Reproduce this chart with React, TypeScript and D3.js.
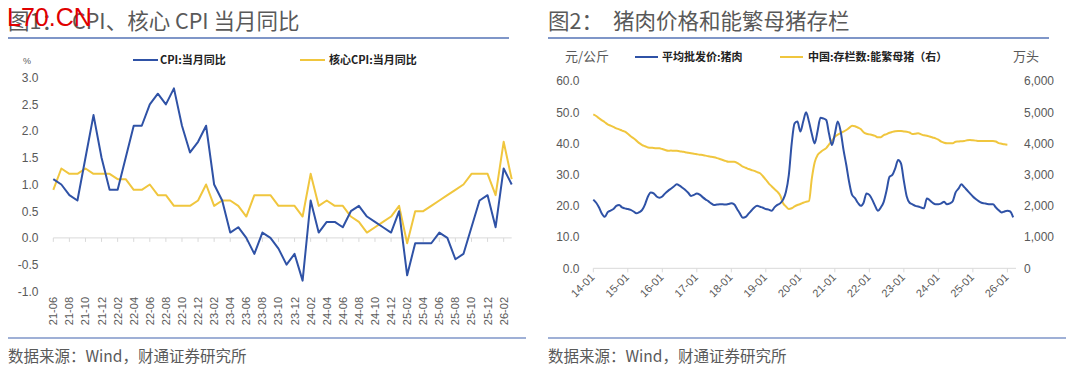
import React from "react";
import * as d3 from "d3";

// ---------- Chart 1 data: CPI & core CPI YoY, 21-06 .. 26-03 ----------
const cpiValues = [
  1.1, 1.0, 0.8, 0.7, 1.5, 2.3, 1.5,
  0.9, 0.9, 1.5, 2.1, 2.1, 2.5, 2.7, 2.5, 2.8, 2.1, 1.6, 1.8,
  2.1, 1.0, 0.7, 0.1, 0.2, 0.0, -0.3, 0.1, 0.0, -0.2, -0.5, -0.3,
  -0.8, 0.7, 0.1, 0.3, 0.3, 0.2, 0.5, 0.6, 0.4, 0.3, 0.2, 0.1,
  0.5, -0.7, -0.1, -0.1, -0.1, 0.1, 0.0, -0.4, -0.3, 0.2, 0.7, 0.8,
  0.2, 1.3, 1.0,
];
const coreValues = [
  0.9, 1.3, 1.2, 1.2, 1.3, 1.2, 1.2,
  1.2, 1.1, 1.1, 0.9, 0.9, 1.0, 0.8, 0.8, 0.6, 0.6, 0.6, 0.7,
  1.0, 0.6, 0.7, 0.7, 0.6, 0.4, 0.8, 0.8, 0.8, 0.6, 0.6, 0.6,
  0.4, 1.2, 0.6, 0.7, 0.6, 0.6, 0.4, 0.3, 0.1, 0.2, 0.3, 0.4,
  0.6, -0.1, 0.5, 0.5, 0.6, 0.7, 0.8, 0.9, 1.0, 1.2, 1.2, 1.2,
  0.8, 1.8, 1.1,
];
const cpiTickLabels = [
  "21-06", "21-08", "21-10", "21-12", "22-02", "22-04", "22-06", "22-08", "22-10", "22-12",
  "23-02", "23-04", "23-06", "23-08", "23-10", "23-12", "24-02", "24-04", "24-06", "24-08",
  "24-10", "24-12", "25-02", "25-04", "25-06", "25-08", "25-10", "25-12", "26-02",
];
const cpiYTicks = [3.0, 2.5, 2.0, 1.5, 1.0, 0.5, 0.0, -0.5, -1.0];

// ---------- Chart 2 data: monthly from 14-01 ----------
const porkPrice = [
  // 2014
  22, 21, 19.5, 17.5, 16.5, 18, 18.5, 19, 20, 20.3, 19.5, 19.2,
  // 2015
  19.0, 18.7, 18.2, 17.6, 18.0, 18.7, 20.5, 23, 24.3, 24, 23, 22.6,
  // 2016
  23, 24, 24.8, 25.5, 26.2, 26.9, 26.5, 25.8, 25.1, 24.2, 23.2, 23.5,
  // 2017
  24, 23.6, 22.8, 22.1, 21.5, 20.8, 20.3, 20.4, 20.5, 20.5, 20.4, 20.6,
  // 2018
  20.8, 20.5, 19, 17.5, 16.2, 16.5, 17.5, 18.5, 19.5, 20, 19.7, 19.4,
  // 2019
  19, 18.8, 18.4, 19.5, 20.3, 20.8, 22, 24.5, 29.9, 40, 46.4, 47,
  // 2020
  43.8, 47, 50, 47, 43, 40, 44, 48.2, 48, 47.5, 43, 39.5,
  // 2021
  43, 47, 44, 38, 33, 27.5, 23.5, 22.5, 21, 20, 21, 24,
  // 2022
  23.5, 22, 20, 18.4, 19.5, 21.3, 25, 29.3, 29.9, 32, 34.7, 33.6,
  // 2023
  28, 23, 21, 20.5, 20, 19.8, 19.5, 19.2, 22.4, 21.8, 21, 20.5,
  // 2024
  20.5, 20.8, 21.3, 20.5, 20.8, 21.5, 24.3, 25.5, 26.9, 26, 25, 24,
  // 2025
  23, 22.2, 21.5, 21, 20.8, 20.6, 20.5, 20.5, 19.5, 18.6, 17.9, 18.2,
  // 2026
  18.4, 18.2, 16.3,
];
const sowStock = [
  // 2014
  4933, 4880, 4805, 4740, 4680, 4612, 4570, 4530, 4484, 4450, 4410, 4375,
  // 2015
  4310, 4230, 4164, 4090, 4010, 3949, 3910, 3870, 3863, 3855, 3848, 3843,
  // 2016
  3820, 3790, 3767, 3770, 3767, 3767, 3750, 3735, 3720, 3700, 3683, 3670,
  // 2017
  3655, 3640, 3629, 3610, 3590, 3575, 3555, 3530, 3501, 3470, 3440, 3415,
  // 2018
  3415, 3415, 3380, 3320, 3254, 3220, 3180, 3149, 3120, 3080, 3043, 2950,
  // 2019
  2840, 2723, 2630, 2540, 2454, 2330, 2082, 1980, 1900, 1924, 1980, 2028,
  // 2020
  2060, 2100, 2130, 2156, 2883, 3400, 3629, 3720, 3789, 3850, 3971, 4080,
  // 2021
  4215, 4280, 4330, 4375, 4430, 4500, 4567, 4550, 4510, 4460, 4360, 4310,
  // 2022
  4290, 4270, 4240, 4196, 4200, 4270, 4300, 4343, 4370, 4390, 4398, 4395,
  // 2023
  4385, 4375, 4350, 4302, 4310, 4324, 4290, 4260, 4247, 4220, 4190, 4164,
  // 2024
  4120, 4055, 4020, 4004, 4004, 4004, 4055, 4060, 4070, 4080, 4100, 4109,
  // 2025
  4100, 4090, 4080, 4077, 4077, 4077, 4077, 4077, 4060, 4010, 3990, 3971,
  // 2026
  3961,
];
const porkTickLabels = [
  "14-01", "15-01", "16-01", "17-01", "18-01", "19-01", "20-01",
  "21-01", "22-01", "23-01", "24-01", "25-01", "26-01",
];
const porkLeftTicks = [0, 10, 20, 30, 40, 50, 60];
const porkRightTicks = [0, 1000, 2000, 3000, 4000, 5000, 6000];

const BLUE = "#2f52a6";
const YELLOW = "#f0c63e";
const GRAY = "#595959";
const RULE = "#7f96c8";
const AXIS = "#d9d9d9";
const SANS = "'Liberation Sans', Arial, sans-serif";
const CJK = "'Noto Sans CJK SC', 'Noto Sans', sans-serif";

function LeftChart() {
  const n = cpiValues.length;
  const x = d3.scaleLinear().domain([0, n - 1]).range([53.3, 511.7]);
  const y = d3.scaleLinear().domain([-1, 3]).range([291.3, 77.7]);
  const line = d3
    .line<number>()
    .x((_, i) => x(i))
    .y((d) => y(d));
  const tickIdx = cpiTickLabels.map((_, i) => i * 2);
  return (
    <g>
      <text x={23} y={64} fontSize={9} fill={GRAY} fontFamily={SANS}>%</text>
      {cpiYTicks.map((t) => (
        <text key={t} x={38.5} y={y(t) + 4.3} textAnchor="end" fontSize={12} fill={GRAY} fontFamily={SANS}>
          {t.toFixed(1)}
        </text>
      ))}
      <line x1={x(0)} x2={x(n - 1)} y1={y(0)} y2={y(0)} stroke={AXIS} strokeWidth={1} />
      {tickIdx.map((i) => (
        <line key={i} x1={x(i)} x2={x(i)} y1={y(0)} y2={y(0) + 4} stroke={AXIS} strokeWidth={1} />
      ))}
      {cpiTickLabels.map((lab, k) => (
        <text
          key={lab}
          transform={`translate(${x(tickIdx[k]) + 4},${297}) rotate(-90)`}
          textAnchor="end"
          fontSize={11}
          fill={GRAY}
          fontFamily={SANS}
        >
          {lab}
        </text>
      ))}
      <path d={line(coreValues) || ""} fill="none" stroke={YELLOW} strokeWidth={2} strokeLinejoin="round" />
      <path d={line(cpiValues) || ""} fill="none" stroke={BLUE} strokeWidth={2} strokeLinejoin="round" />
      {/* legend */}
      <line x1={133} x2={158} y1={60} y2={60} stroke={BLUE} strokeWidth={2} />
      <text x={160} y={64} fontSize={11} fontWeight="bold" fill="#222" fontFamily={CJK}>CPI:当月同比</text>
      <line x1={300} x2={325} y1={60} y2={60} stroke={YELLOW} strokeWidth={2} />
      <text x={329} y={64} fontSize={11} fontWeight="bold" fill="#222" fontFamily={CJK}>核心CPI:当月同比</text>
    </g>
  );
}

function RightChart() {
  const x = d3.scaleLinear().domain([0, 147]).range([593.3, 1016]);
  const yL = d3.scaleLinear().domain([0, 60]).range([268.3, 81]);
  const yR = d3.scaleLinear().domain([0, 6000]).range([268.3, 81]);
  const lineL = d3.line<number>().x((_, i) => x(i)).y((d) => yL(d)).curve(d3.curveMonotoneX);
  const lineR = d3.line<number>().x((_, i) => x(i)).y((d) => yR(d)).curve(d3.curveMonotoneX);
  const fmt = d3.format(",");
  return (
    <g>
      <text x={565} y={61} fontSize={13} fill={GRAY} fontFamily={CJK}>元/公斤</text>
      <text x={1013} y={61} fontSize={13} fill={GRAY} fontFamily={CJK}>万头</text>
      {porkLeftTicks.map((t) => (
        <text key={t} x={579.5} y={yL(t) + 4.3} textAnchor="end" fontSize={12} fill={GRAY} fontFamily={SANS}>
          {t.toFixed(1)}
        </text>
      ))}
      {porkRightTicks.map((t) => (
        <text key={t} x={1024} y={yR(t) + 4.3} textAnchor="start" fontSize={12} fill={GRAY} fontFamily={SANS}>
          {fmt(t)}
        </text>
      ))}
      <line x1={x(0)} x2={x(147)} y1={yL(0)} y2={yL(0)} stroke={AXIS} strokeWidth={1} />
      {porkTickLabels.map((lab, k) => (
        <g key={lab}>
          <line x1={x(k * 12)} x2={x(k * 12)} y1={yL(0)} y2={yL(0) + 4} stroke={AXIS} strokeWidth={1} />
          <text
            transform={`translate(${x(k * 12) + 2},${278}) rotate(-45)`}
            textAnchor="end"
            fontSize={11}
            fill={GRAY}
            fontFamily={SANS}
          >
            {lab}
          </text>
        </g>
      ))}
      <path d={lineR(sowStock) || ""} fill="none" stroke={YELLOW} strokeWidth={2} strokeLinejoin="round" />
      <path d={lineL(porkPrice) || ""} fill="none" stroke={BLUE} strokeWidth={2} strokeLinejoin="round" />
      {/* legend */}
      <line x1={635} x2={658} y1={57} y2={57} stroke={BLUE} strokeWidth={2} />
      <text x={662} y={61} fontSize={11} fontWeight="bold" fill="#222" fontFamily={CJK}>平均批发价:猪肉</text>
      <line x1={780} x2={803} y1={57} y2={57} stroke={YELLOW} strokeWidth={2} />
      <text x={808} y={61} fontSize={11} fontWeight="bold" fill="#222" fontFamily={CJK}>中国:存栏数:能繁母猪（右）</text>
    </g>
  );
}

export default function App() {
  return (
    <svg
      width={1080}
      height={379}
      viewBox="0 0 1080 379"
      style={{ position: "absolute", left: 0, top: 0, background: "#fff" }}
    >
      <rect x={0} y={0} width={1080} height={379} fill="#fff" />
      {/* titles */}
      <text x={8} y={29} fontSize={21.5} fill={GRAY} fontFamily={CJK}>图1：</text>
      <text x={72} y={29} fontSize={21.5} fill={GRAY} fontFamily={CJK}>CPI、核心 CPI 当月同比</text>
      <text x={7} y={26} fontSize={25} fill="#e00000" fontFamily={SANS}>L70.CN</text>
      <text x={548} y={29} fontSize={21.5} fill={GRAY} fontFamily={CJK}>图2：</text>
      <text x={613} y={29} fontSize={21.5} fill={GRAY} fontFamily={CJK}>猪肉价格和能繁母猪存栏</text>
      <line x1={8} x2={509} y1={38} y2={38} stroke={RULE} strokeWidth={2} />
      <line x1={548} x2={1049} y1={38} y2={38} stroke={RULE} strokeWidth={2} />

      <LeftChart />
      <RightChart />

      {/* bottom rules and source */}
      <line x1={8} x2={526} y1={338} y2={338} stroke={RULE} strokeWidth={1.5} />
      <line x1={548} x2={1066} y1={338} y2={338} stroke={RULE} strokeWidth={1.5} />
      <text x={8} y={362} fontSize={15.5} fill={GRAY} fontFamily={CJK}>数据来源：Wind，财通证券研究所</text>
      <text x={548} y={362} fontSize={15.5} fill={GRAY} fontFamily={CJK}>数据来源：Wind，财通证券研究所</text>
    </svg>
  );
}
